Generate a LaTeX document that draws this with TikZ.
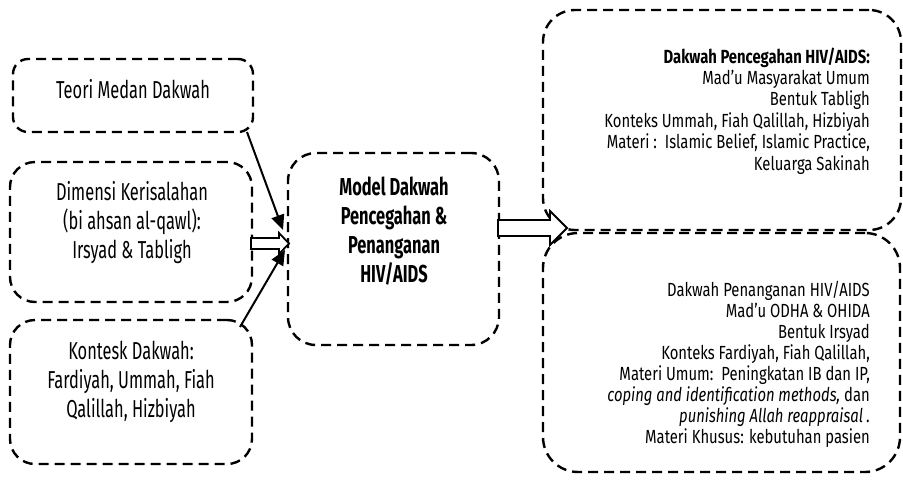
\documentclass[tikz,border=0pt]{standalone}
\usepackage{fontspec}
\setmainfont{Fira Sans}[FakeStretch=0.67]
\newfontfamily\notefont{Fira Sans}[FakeStretch=0.78]
\usetikzlibrary{calc,arrows.meta}
\begin{document}
\begin{tikzpicture}[x=1pt,y=-1pt,
  dbox/.style={draw,dashed,dash pattern=on 10pt off 6pt,line width=2.4pt,
    inner sep=0pt,outer sep=0pt},
  bigtxt/.style={inner sep=0pt,align=center,font=\fontsize{24.5}{28.7}\selectfont},
  smalltxt/.style={inner sep=0pt,align=right},
  thinarrow/.style={line width=2pt,-{Triangle[length=15pt,width=13pt]}},
  blockarrow/.style={draw,line width=1.8pt,fill=white,line join=miter}]
\useasboundingbox (0,0) rectangle (903,493);

% boxes
\node[dbox,rounded corners=15pt,minimum width=240pt,minimum height=73pt] (teori) at (133,95.5) {};
\node[dbox,rounded corners=25pt,minimum width=242pt,minimum height=140pt] (dimensi) at (131,232) {};
\node[dbox,rounded corners=25pt,minimum width=242pt,minimum height=144pt] (kontesk) at (131,392) {};
\node[dbox,rounded corners=28pt,minimum width=211pt,minimum height=192pt] (model) at (393.5,249) {};
\node[dbox,rounded corners=32pt,minimum width=358pt,minimum height=220pt] (cegah) at (722,120) {};
\node[dbox,rounded corners=35pt,minimum width=357pt,minimum height=239pt] (tangan) at (721.5,352.5) {};

% texts (anchored at the baseline of their last line)
\node[bigtxt,anchor=base] (tteori) at (133,98) {Teori Medan Dakwah};
\node[bigtxt,anchor=base] (tdimensi) at (132,258) {Dimensi Kerisalahan\\(bi ahsan al-qawl):\\Irsyad \& Tabligh};
\node[bigtxt,anchor=base] (tkontesk) at (131,417) {Kontesk Dakwah:\\Fardiyah, Ummah, Fiah\\Qalillah, Hizbiyah};
\node[bigtxt,anchor=base,font=\fontsize{24.5}{28.7}\selectfont\bfseries] (tmodel) at (394,282)
  {Model Dakwah\\Pencegahan \&\\Penanganan\\HIV/AIDS};
\node[smalltxt,anchor=base east,font=\notefont\fontsize{19}{21.4}\selectfont] (tcegah) at (870,170)
  {\textbf{Dakwah Pencegahan HIV/AIDS:}\\Mad’u Masyarakat Umum\\Bentuk Tabligh\\
   Konteks Ummah, Fiah Qalillah, Hizbiyah\\Materi :\ \ Islamic Belief, Islamic Practice,\\Keluarga Sakinah};
\node[smalltxt,anchor=base east,font=\notefont\fontsize{19}{20.9}\selectfont] (ttangan) at (870,443)
  {Dakwah Penanganan HIV/AIDS\\Mad’u ODHA \& OHIDA\\Bentuk Irsyad\\Konteks Fardiyah, Fiah Qalillah,\\
   Materi Umum:\ \ Peningkatan IB dan IP,\\\textit{coping and identification methods,} dan\\
   \textit{punishing Allah reappraisal}\,.\\Materi Khusus: kebutuhan pasien};

% thin arrows into the model box
\draw[thinarrow] ($(teori.south east)+(-6,0)$) -- ($(model.west)+(-5,-19)$);
\draw[thinarrow] ($(kontesk.north east)+(-12,7)$) -- ($(model.west)+(-3,1)$);

% hollow block arrows
\coordinate (la) at ($(dimensi.east)+(-1,11.5)$);
\draw[blockarrow] ($(la)+(0,-5.5)$) -- ++(28,0) -- ++(0,-5) -- ($(la)+(38,0)$)
  -- ($(la)+(28,10.5)$) -- ++(0,-5) -- ($(la)+(0,5.5)$) -- cycle;
\coordinate (ra) at ($(model.east)+(-1,-21)$);
\draw[blockarrow] ($(ra)+(0,-8)$) -- ++(52,0) -- ++(0,-9) -- ($(ra)+(69,0)$)
  -- ($(ra)+(52,17)$) -- ++(0,-9) -- ($(ra)+(0,8)$) -- cycle;
\end{tikzpicture}
\end{document}
